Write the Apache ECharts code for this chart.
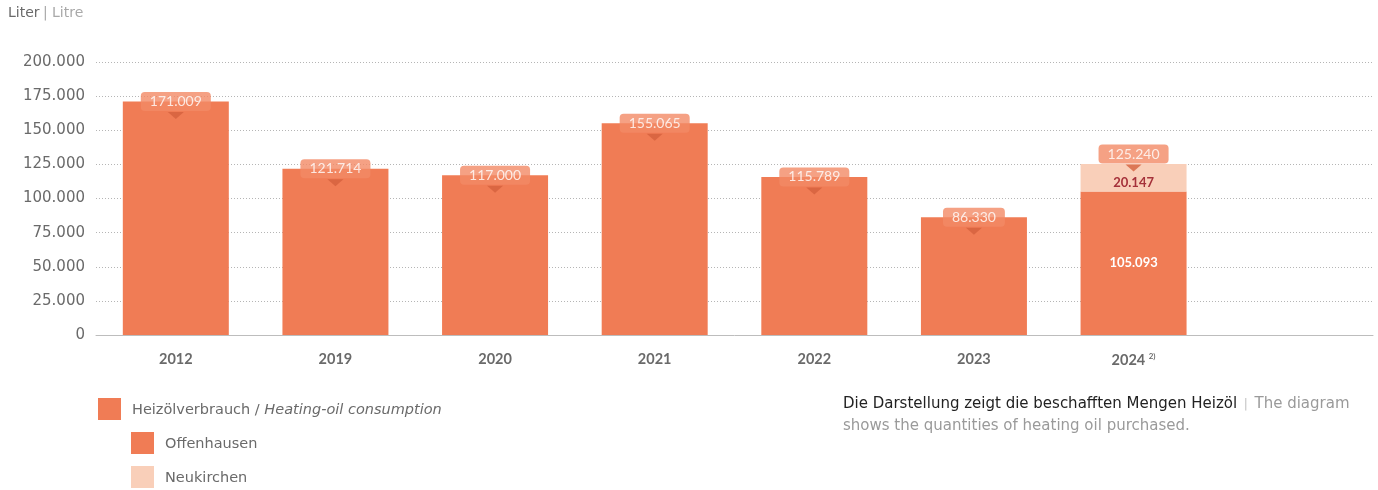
<!DOCTYPE html>
<html>
<head>
<meta charset="utf-8">
<script src="https://cdn.jsdelivr.net/npm/echarts@6/dist/echarts.min.js"></script>
<style>
  html, body { margin: 0; padding: 0; background: #fff; }
  #chart { width: 1378px; height: 490px; }
</style>
</head>
<body>
<div id="chart"></div>
<script>
// Data
const years = ['2012', '2019', '2020', '2021', '2022', '2023', '2024', ''];
const offenhausen = [171009, 121714, 117000, 155065, 115789, 86330, 105093, null];
const neukirchen = [null, null, null, null, null, null, 20147, null];
const totals = [171009, 121714, 117000, 155065, 115789, 86330, 125240, null];
const yTicks = [0, 25000, 50000, 75000, 100000, 125000, 150000, 175000, 200000];

const COLORS = {
  bar: '#f07c55',
  light: '#f9cfb9',
  box: '#f38a65',
  tri: '#d5603d',
  dark: '#a5313a',
  text: '#6a6a6a'
};
const FONT = 'Lato, "Open Sans", sans-serif';
const WIDE = '"DejaVu Sans", sans-serif';

const fmt = v => v.toLocaleString('de-DE');

const chart = echarts.init(document.getElementById('chart'));

function legendItem(name, left, top, formatter) {
  return {
    data: [name],
    left: left, top: top,
    padding: 0,
    itemWidth: 23, itemHeight: 22,
    icon: 'rect',
    selectedMode: false,
    formatter: formatter,
    textStyle: {
      color: COLORS.text, fontSize: 14.5, fontFamily: WIDE, padding: [2, 0, 0, 6],
      rich: { i: { fontStyle: 'italic', color: COLORS.text, fontSize: 14.5, fontFamily: WIDE } }
    }
  };
}

const option = {
  backgroundColor: '#fff',
  animation: false,
  textStyle: { fontFamily: FONT },
  grid: { left: 96, right: 5, top: 62, bottom: 155 },
  legend: [
    legendItem('Heizölverbrauch', 98, 398, () => 'Heizölverbrauch / {i|Heating-oil consumption}'),
    legendItem('Offenhausen', 131, 432),
    legendItem('Neukirchen', 131, 466)
  ],
  xAxis: {
    type: 'category',
    data: years,
    axisTick: { show: false },
    axisLine: { lineStyle: { color: '#bdbdbd', width: 1 } },
    axisLabel: {
      margin: 17,
      color: COLORS.text,
      fontSize: 14.5,
      fontWeight: 'bold',
      fontFamily: FONT,
      formatter: v => v === '2024' ? '2024 {s|2)}' : v,
      rich: { s: { fontSize: 8, color: COLORS.text, fontWeight: 'bold', verticalAlign: 'top', padding: [0, 0, 8, 0] } }
    }
  },
  yAxis: {
    type: 'value',
    min: yTicks[0],
    max: yTicks[yTicks.length - 1],
    interval: 25000,
    axisLine: { show: false },
    axisTick: { show: false },
    axisLabel: { color: COLORS.text, fontSize: 15, fontFamily: WIDE, margin: 11, formatter: v => fmt(v) },
    splitLine: { lineStyle: { color: '#b5b5b5', type: [1, 2], width: 1 } }
  },
  series: [
    {
      name: 'Heizölverbrauch',
      type: 'bar',
      data: [],
      itemStyle: { color: COLORS.bar }
    },
    {
      name: 'Offenhausen',
      type: 'bar',
      stack: 'oil',
      barWidth: 106,
      data: offenhausen.map((v, i) => ({
        value: v,
        label: i === 6 ? {
          show: true, position: 'inside', color: '#fff', fontWeight: 'bold', fontSize: 13,
          formatter: p => fmt(p.value)
        } : { show: false }
      })),
      itemStyle: { color: COLORS.bar },
      silent: true
    },
    {
      name: 'Neukirchen',
      type: 'bar',
      stack: 'oil',
      barWidth: 106,
      data: neukirchen,
      itemStyle: { color: COLORS.light },
      label: {
        show: true, position: 'inside', offset: [0, 5],
        color: COLORS.dark, fontWeight: 'bold', fontSize: 13,
        formatter: p => p.value == null ? '' : fmt(p.value)
      },
      silent: true
    },
    {
      // pointer triangles under the value boxes
      name: 'tri',
      type: 'scatter',
      silent: true,
      z: 5,
      data: totals.map((v, i) => ({ value: v, symbolOffset: [0, i === 6 ? 4 : 14] })),
      symbol: 'path://M0,0 L16,0 L8,7 Z',
      symbolSize: [16, 7],
      itemStyle: { color: COLORS.tri }
    },
    {
      // value boxes centred on the bar tops
      name: 'box',
      type: 'scatter',
      silent: true,
      z: 6,
      symbolSize: 1,
      itemStyle: { color: 'transparent' },
      data: totals.map((v, i) => ({ value: v, label: { offset: [0, i === 6 ? -10 : 0] } })),
      label: {
        show: true,
        position: 'inside',
        color: '#fff',
        fontSize: 14,
        fontFamily: FONT,
        backgroundColor: COLORS.box,
        borderRadius: 4,
        padding: [3, 9, 2, 9],
        lineHeight: 14,
        formatter: p => p.value == null ? '' : fmt(p.value)
      }
    }
  ],
  graphic: [
    {
      type: 'text', left: 8, top: 6,
      style: {
        text: '{a|Liter} {b|| Litre}',
        rich: {
          a: { fontSize: 14, fill: '#6a6a6a', fontFamily: WIDE },
          b: { fontSize: 14, fill: '#a9a9a9', fontFamily: WIDE }
        }
      }
    },
    {
      type: 'text', left: 843, top: 397,
      style: {
        text: '{a|Die Darstellung zeigt die beschafften Mengen Heizöl}  {s||}  {b|The diagram}\n{b|shows the quantities of heating oil purchased.}',
        rich: {
          a: { fontSize: 15, fill: '#222', fontFamily: WIDE, lineHeight: 22 },
          s: { fontSize: 12, fill: '#c0c0c0', fontFamily: WIDE, lineHeight: 22 },
          b: { fontSize: 15, fill: '#9a9a9a', fontFamily: WIDE, lineHeight: 22 }
        }
      }
    }
  ]
};

chart.setOption(option);
</script>
</body>
</html>
